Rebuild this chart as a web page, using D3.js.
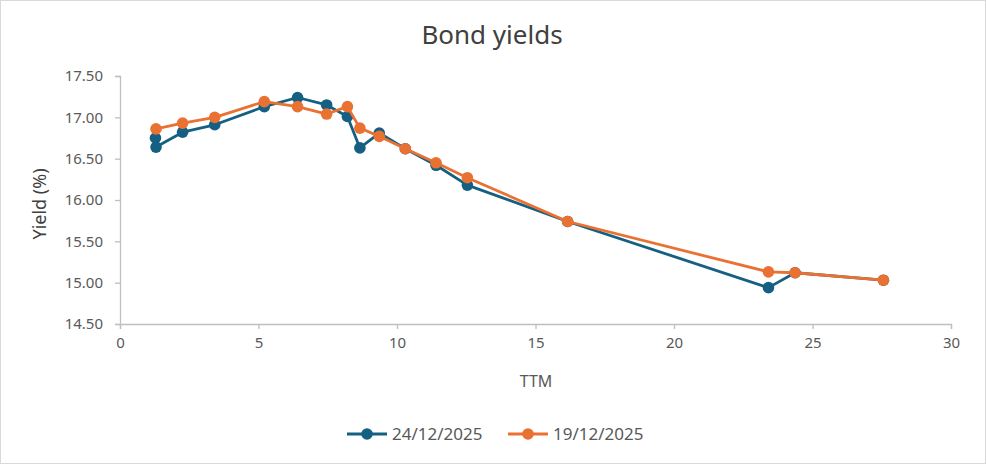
<!DOCTYPE html>
<html><head><meta charset="utf-8">
<script src="https://cdn.jsdelivr.net/npm/d3@7"></script>
<style>html,body{margin:0;padding:0;background:#fff}svg{display:block}</style>
</head><body>
<script>
const ttmA = [1.28,1.30,2.26,3.42,5.21,6.41,7.46,8.21,8.66,9.36,10.30,11.41,12.54,16.16,23.41,24.37,27.56];
const yieldA = [16.75,16.64,16.82,16.91,17.13,17.24,17.15,17.01,16.63,16.81,16.62,16.42,16.18,15.74,14.94,15.12,15.03];
const ttmB = [1.30,2.26,3.42,5.21,6.41,7.46,8.21,8.66,9.36,10.30,11.41,12.54,16.16,23.41,24.37,27.56];
const yieldB = [16.86,16.93,17.00,17.19,17.13,17.04,17.13,16.87,16.77,16.62,16.45,16.27,15.74,15.13,15.12,15.03];
const seriesNames = ["24/12/2025","19/12/2025"];
const xTicks = [0,5,10,15,20,25,30];
const yTicks = [14.5,15,15.5,16,16.5,17,17.5];

const W=986,H=464;
const colors=["#156082","#E97132"];
const font="'Noto Sans', sans-serif";
const svg=d3.select("body").append("svg").attr("width",W).attr("height",H);
svg.append("rect").attr("x",0.5).attr("y",0.5).attr("width",W-1).attr("height",H-1)
  .attr("fill","#fff").attr("stroke","#d9d9d9");

const x=d3.scaleLinear().domain([0,30]).range([120,951]);
const y=d3.scaleLinear().domain([14.5,17.5]).range([324,76]);

svg.append("text").attr("x",492).attr("y",44).attr("text-anchor","middle")
  .attr("font-family",font).attr("font-size",26).attr("fill","#404040").text("Bond yields");

const gx=svg.append("g").attr("transform","translate(0,324)")
  .call(d3.axisBottom(x).tickValues(xTicks).tickSize(5).tickPadding(8).tickFormat(d3.format("d")));
const gy=svg.append("g").attr("transform","translate(120,0)")
  .call(d3.axisLeft(y).tickValues(yTicks).tickSize(5).tickPadding(12).tickFormat(d3.format(".2f")));
[gx,gy].forEach(g=>{
  g.select(".domain").attr("stroke","#bfbfbf").attr("stroke-width",1.3);
  g.selectAll(".tick line").attr("stroke","#bfbfbf").attr("stroke-width",1.3);
  g.selectAll(".tick text").attr("font-family",font).attr("font-size",15).attr("fill","#595959");
});

svg.append("text").attr("x",536).attr("y",387).attr("text-anchor","middle")
  .attr("font-family",font).attr("font-size",16).attr("fill","#595959").text("TTM");
svg.append("text").attr("transform","translate(46,204) rotate(-90)").attr("text-anchor","middle")
  .attr("font-family",font).attr("font-size",18).attr("fill","#404040").text("Yield (%)");

const data=[ttmA.map((t,i)=>[t,yieldA[i]]), ttmB.map((t,i)=>[t,yieldB[i]])];
const line=d3.line().x(d=>x(d[0])).y(d=>y(d[1]));
data.forEach((ds,k)=>{
  const g=svg.append("g");
  g.append("path").datum(ds).attr("d",line).attr("fill","none")
    .attr("stroke",colors[k]).attr("stroke-width",2.8).attr("stroke-linejoin","round");
  g.selectAll("circle").data(ds).join("circle")
    .attr("cx",d=>x(d[0])).attr("cy",d=>y(d[1])).attr("r",5.8).attr("fill",colors[k]);
});

const legX=[347,508];
seriesNames.forEach((n,k)=>{
  const g=svg.append("g").attr("transform",`translate(${legX[k]},434)`);
  g.append("line").attr("x1",0).attr("x2",40).attr("stroke",colors[k]).attr("stroke-width",2.8);
  g.append("circle").attr("cx",20).attr("r",5.8).attr("fill",colors[k]);
  g.append("text").attr("x",45).attr("y",6).attr("font-family",font).attr("font-size",17)
    .attr("fill","#595959").text(n);
});
</script>
</body></html>
